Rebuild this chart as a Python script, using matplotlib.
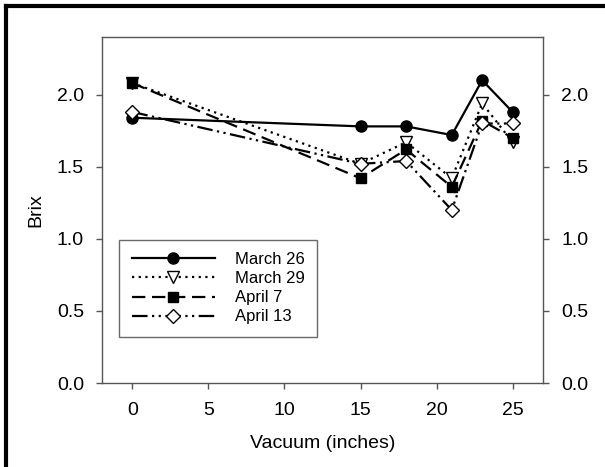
import numpy as np
import matplotlib.pyplot as plt

plt.rcParams['font.family'] = ['Liberation Sans', 'DejaVu Sans']

vacuum = [0, 15, 18, 21, 23, 25]
march26 = [1.84, 1.78, 1.78, 1.72, 2.10, 1.88]
march29 = [2.08, 1.52, 1.67, 1.42, 1.94, 1.67]
april7 = [2.08, 1.42, 1.62, 1.36, 1.82, 1.70]
april13 = [1.88, 1.52, 1.54, 1.20, 1.80, 1.80]
labels = ['March 26', 'March 29', 'April 7', 'April 13']

fig = plt.figure(figsize=(6.05, 4.67), dpi=100)
ax = fig.add_axes([102/605, 1 - 383/467, (543-102)/605, (383-37)/467])

ax.plot(vacuum, march26, color='black', lw=1.6, ls='-', marker='o', ms=8,
        label=labels[0])
ax.plot(vacuum, march29, color='black', lw=1.6, ls=(0, (1, 2)), marker='v', ms=8,
        mfc='white', mec='black', label=labels[1])
ax.plot(vacuum, april7, color='black', lw=1.6, ls=(0, (6, 3)), marker='s', ms=7,
        label=labels[2])
ax.plot(vacuum, april13, color='black', lw=1.6, ls=(0, (7, 2, 1, 2, 1, 2)), marker='D',
        ms=7, mfc='white', mec='black', label=labels[3])

ax.set_xlim(-2, 27)
ax.set_ylim(0, 2.4)
ax.set_xticks([0, 5, 10, 15, 20, 25])
ax.set_yticks([0.0, 0.5, 1.0, 1.5, 2.0])
ax.set_yticklabels(['0.0', '0.5', '1.0', '1.5', '2.0'])
ax.tick_params(axis='both', direction='out', length=4, width=1, color='#555555',
               labelsize=14)
ax.tick_params(axis='x', pad=10)
ax.tick_params(axis='y', right=True, labelright=True, pad=9)
for s in ax.spines.values():
    s.set_color('#555555')
    s.set_linewidth(1)

ax.set_xlabel('Vacuum (inches)', fontsize=14, labelpad=11)
ax.set_ylabel('Brix', fontsize=14, labelpad=9)

leg = ax.legend(loc='lower left', bbox_to_anchor=((119-102)/441, (383-337)/346),
                borderaxespad=0, fontsize=12, frameon=True, fancybox=False,
                edgecolor='#444444', handlelength=5.0, handletextpad=1.2,
                borderpad=0.75, labelspacing=0.25)
leg.get_frame().set_linewidth(1)

# outer border (top and left)
fig.add_artist(plt.Line2D([6/605, 6/605], [0, 1 - 6/467], transform=fig.transFigure,
                          color='black', lw=3))
fig.add_artist(plt.Line2D([6/605, 1], [1 - 6/467, 1 - 6/467], transform=fig.transFigure,
                          color='black', lw=3))

fig.savefig('out.png', dpi=100)
